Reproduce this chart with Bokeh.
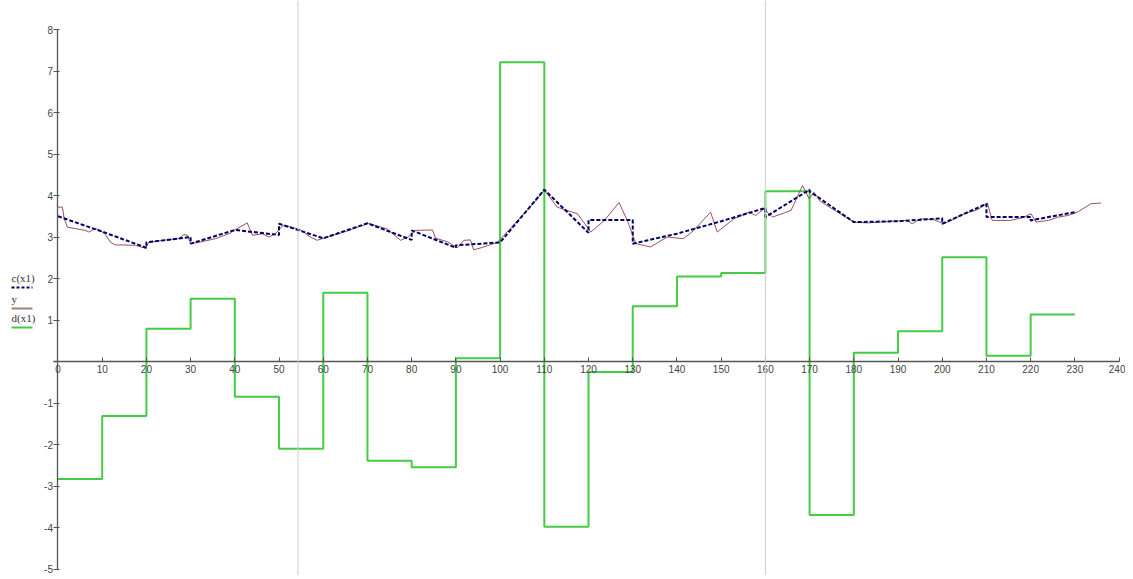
from bokeh.plotting import figure
from bokeh.models import Range1d, FixedTicker, Span, Label, Arrow
from bokeh.embed import file_html
from bokeh.resources import INLINE

# ---------------- data ----------------
# d(x1): piecewise constant over intervals of width 10, starting at 0
d_starts = [0, 10, 20, 30, 40, 50, 60, 70, 80, 90, 100, 110, 120, 130, 140, 150,
            160, 170, 180, 190, 200, 210, 220]
d_end = 230
d_vals = [-2.83, -1.31, 0.79, 1.51, -0.85, -2.10, 1.66, -2.39, -2.55, 0.08, 7.21,
          -3.98, -0.25, 1.33, 2.05, 2.13, 4.10, -3.70, 0.21, 0.73, 2.51, 0.14, 1.13]

# c(x1): piecewise linear on each interval (value at interval start / end)
c_start_vals = [3.50, 3.13, 2.87, 2.84, 3.17, 3.32, 2.97, 3.33, 3.16, 2.80, 2.87,
                4.14, 3.41, 2.84, 3.08, 3.38, 3.48, 4.10, 3.36, 3.38, 3.32, 3.48, 3.40]
c_end_vals = [3.13, 2.74, 3.00, 3.17, 3.05, 2.97, 3.33, 2.93, 2.74, 2.87, 4.14,
              3.10, 3.41, 3.08, 3.38, 3.70, 4.14, 3.36, 3.38, 3.45, 3.80, 3.48, 3.60]

# y: measured signal
y_x = [0.0, 1.0, 1.4, 2.1, 4.0, 6.2, 7.0, 8.5, 9.6, 10.7, 11.9, 13.0, 14.5, 17.5,
       19.8, 20.5, 23.6, 27.3, 28.5, 29.3, 30.0, 31.8, 35.6, 38.7, 40.5, 42.8, 44.0,
       46.2, 47.7, 49.2, 50.9, 52.8, 54.9, 57.1, 58.6, 60.9, 64.7, 70.2, 74.5, 77.5,
       79.2, 80.9, 84.7, 85.4, 88.0, 90.3, 91.8, 93.3, 94.0, 96.0, 99.4, 103.9,
       107.7, 110.0, 112.9, 117.5, 120.5, 123.5, 126.9, 128.8, 130.7, 134.0, 137.8,
       141.5, 143.8, 147.6, 149.1, 152.9, 156.3, 157.8, 159.7, 161.6, 165.8, 168.4,
       169.9, 171.0, 172.4, 176.0, 180.0, 183.0, 186.0, 189.0, 192.0, 193.2, 195.1,
       198.0, 200.4, 203.0, 205.0, 208.0, 210.2, 211.3, 215.4, 218.0, 220.1, 221.2,
       224.0, 226.2, 228.5, 230.6, 233.6, 235.9]
y_vals = [3.72, 3.72, 3.45, 3.24, 3.20, 3.16, 3.12, 3.20, 3.16, 3.06, 2.87, 2.81,
          2.81, 2.80, 2.73, 2.87, 2.92, 2.96, 3.06, 3.04, 2.84, 2.87, 2.96, 3.08,
          3.20, 3.34, 3.04, 3.08, 3.00, 3.08, 3.28, 3.24, 3.17, 3.00, 2.92, 3.00,
          3.12, 3.33, 3.19, 2.92, 3.00, 3.16, 3.17, 2.97, 2.89, 2.74, 2.92, 2.93,
          2.69, 2.75, 2.87, 3.39, 3.83, 4.13, 3.72, 3.56, 3.12, 3.39, 3.83, 3.39,
          2.84, 2.76, 3.00, 2.96, 3.16, 3.60, 3.12, 3.44, 3.60, 3.52, 3.68, 3.48,
          3.64, 4.24, 3.92, 4.08, 3.86, 3.62, 3.36, 3.34, 3.36, 3.38, 3.40, 3.32,
          3.44, 3.42, 3.32, 3.45, 3.56, 3.66, 3.82, 3.40, 3.40, 3.46, 3.56, 3.36,
          3.40, 3.48, 3.52, 3.60, 3.80, 3.82]

x_ticks = [0, 10, 20, 30, 40, 50, 60, 70, 80, 90, 100, 110, 120, 130, 140, 150, 160,
           170, 180, 190, 200, 210, 220, 230, 240]
y_ticks = [-5, -4, -3, -2, -1, 0, 1, 2, 3, 4, 5, 6, 7, 8]
y_tick_labels = ["-5", "-4", "-3", "-2", "-1", "", "1", "2", "3", "4", "5", "6", "7", "8"]
marker_x = [54.3, 160.0]
legend_names = ["c(x1)", "y", "d(x1)"]

# ---------------- figure ----------------
W, H = 1125, 575
p = figure(width=W, height=H, output_backend="svg", toolbar_location=None,
           x_range=Range1d(-13.0, 241.45), y_range=Range1d(-5.156, 8.699),
           min_border=0, outline_line_color=None, background_fill_color="white")
p.grid.visible = False

for xm in marker_x:
    p.add_layout(Span(location=xm, dimension="height", line_color="#cccccc", line_width=1))

# d(x1) step line
step_x = d_starts + [d_end]
step_y = d_vals + [d_vals[-1]]
p.step(step_x, step_y, mode="after", line_color="#44cc44", line_width=2)

# y measured line
p.line(y_x, y_vals, line_color="#9a5060", line_width=1)

# c(x1) piecewise linear with jumps
cx, cy = [], []
ends = d_starts[1:] + [d_end]
for s, e, a, b in zip(d_starts, ends, c_start_vals, c_end_vals):
    cx += [s, e]
    cy += [a, b]
p.line(cx, cy, line_color="#000066", line_width=2, line_dash="4 2")

# axes crossing at the origin
ax_col = "#555555"
p.xaxis.fixed_location = 0
p.yaxis.fixed_location = 0
p.xaxis.bounds = (-1, 240)
p.yaxis.bounds = (-5, 8)
p.xaxis.ticker = FixedTicker(ticks=x_ticks)
p.yaxis.ticker = FixedTicker(ticks=y_ticks)
p.xaxis.minor_tick_line_color = None
p.yaxis.minor_tick_line_color = None
p.xaxis.major_label_overrides = {t: str(t) for t in x_ticks}
p.yaxis.major_label_overrides = {t: lab for t, lab in zip(y_ticks, y_tick_labels)}
for ax in (p.xaxis, p.yaxis):
    ax.axis_line_color = ax_col
    ax.axis_line_width = 1.3
    ax.major_tick_line_color = ax_col
    ax.major_label_text_font = "Liberation Sans"
    ax.major_label_text_font_size = "10px"
    ax.major_label_text_color = "#444444"
p.xaxis.major_tick_in = 4
p.xaxis.major_tick_out = 0
p.xaxis.major_label_standoff = 3
p.yaxis.major_tick_in = 2
p.yaxis.major_tick_out = 4
p.yaxis.major_label_standoff = 1

# legend (label above sample line), placed in screen units
def sy(y_ref):
    return H - y_ref

def sx(x_ref):
    return x_ref

leg_text_y = [277, 298, 317]
leg_line_y = [287, 308, 327]
leg_colors = ["#000066", "#a08080", "#44cc44"]
leg_dash = ["3 2", "solid", "solid"]
for name, ty, ly, col, dash in zip(legend_names, leg_text_y, leg_line_y, leg_colors, leg_dash):
    p.add_layout(Label(x=sx(11), y=sy(ty), x_units="screen", y_units="screen", text=name,
                       text_font="Liberation Serif", text_font_size="11px",
                       text_color="#333333", text_baseline="middle", text_align="left"))
    p.add_layout(Arrow(end=None, x_start=sx(11), y_start=sy(ly), x_end=sx(32), y_end=sy(ly),
                       start_units="screen", end_units="screen",
                       line_color=col, line_width=2, line_dash=dash))

open("out.html", "w").write(file_html(p, INLINE))
